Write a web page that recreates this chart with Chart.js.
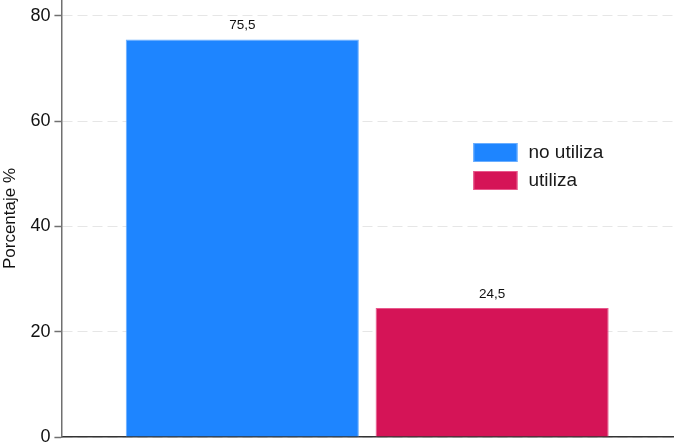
<!DOCTYPE html>
<html>
<head>
<meta charset="utf-8">
<script src="https://cdn.jsdelivr.net/npm/chart.js@4/dist/chart.umd.min.js"></script>
<style>
  body { margin: 0; background: #fff; }
</style>
</head>
<body>
<canvas id="chart" width="679" height="447"></canvas>
<script>
const categories = ['no utiliza', 'utiliza'];
const values = [75.5, 24.5];
const yTicks = [0, 20, 40, 60, 80];
const barColors = ['#1e85ff', '#d51457'];
const barEdges = ['#6aaeff', '#e8588c'];

const FONT = "'Liberation Sans', Arial, sans-serif";

// value labels above each bar, decimal comma
const valueLabels = {
    id: 'valueLabels',
    afterDatasetsDraw(chart) {
        const ctx = chart.ctx;
        ctx.save();
        ctx.font = `13.5px ${FONT}`;
        ctx.fillStyle = '#111';
        ctx.textAlign = 'center';
        ctx.textBaseline = 'bottom';
        chart.data.datasets.forEach((ds, i) => {
            chart.getDatasetMeta(i).data.forEach((bar, j) => {
                ctx.fillText(ds.data[j].toFixed(1).replace('.', ','), bar.x, bar.y - 7);
            });
        });
        ctx.restore();
    }
};

// legend drawn inside the plot area
const insideLegend = {
    id: 'insideLegend',
    afterDraw(chart) {
        const ctx = chart.ctx;
        const area = chart.chartArea;
        const x = area.left + 412;
        let y = area.top + 143;
        ctx.save();
        ctx.font = `19px ${FONT}`;
        ctx.textBaseline = 'middle';
        chart.data.datasets.forEach(ds => {
            ctx.fillStyle = ds.backgroundColor;
            ctx.fillRect(x, y, 44, 19);
            ctx.strokeStyle = ds.borderColor;
            ctx.lineWidth = 1;
            ctx.strokeRect(x + 0.5, y + 0.5, 43, 18);
            ctx.fillStyle = '#1a1a1a';
            ctx.fillText(ds.label, x + 55, y + 10);
            y += 28;
        });
        ctx.restore();
    }
};

new Chart(document.getElementById('chart').getContext('2d'), {
    type: 'bar',
    data: {
        labels: [''],
        datasets: categories.map((cat, i) => ({
            label: cat,
            data: [values[i]],
            backgroundColor: barColors[i],
            borderColor: barEdges[i],
            borderWidth: 1,
            categoryPercentage: 0.817,
            barPercentage: 0.933
        }))
    },
    options: {
        responsive: false,
        animation: false,
        devicePixelRatio: 1,
        layout: { padding: { left: 0, right: 6, top: 0, bottom: 10 } },
        plugins: {
            legend: { display: false },
            tooltip: { enabled: false }
        },
        scales: {
            x: {
                ticks: { display: false },
                grid: { display: false, drawTicks: false },
                border: { display: true, color: '#333', width: 1.5 }
            },
            y: {
                min: 0,
                max: 83,
                afterBuildTicks(scale) {
                    scale.ticks = yTicks.map(v => ({ value: v }));
                },
                afterFit(scale) {
                    scale.paddingTop = 0;
                    scale.paddingBottom = 0;
                },
                ticks: {
                    padding: 4,
                    color: '#111',
                    font: { family: FONT, size: 18 }
                },
                grid: {
                    color: '#e6e6e6',
                    lineWidth: 1,
                    tickLength: 7,
                    tickColor: '#707070',
                    tickWidth: 1.5
                },
                border: { display: true, color: '#707070', width: 1.5, dash: [10, 5] },
                title: {
                    display: true,
                    text: 'Porcentaje %',
                    color: '#111',
                    font: { family: FONT, size: 17 },
                    padding: { top: 0, bottom: 6 }
                }
            }
        }
    },
    plugins: [valueLabels, insideLegend]
});
</script>
</body>
</html>
